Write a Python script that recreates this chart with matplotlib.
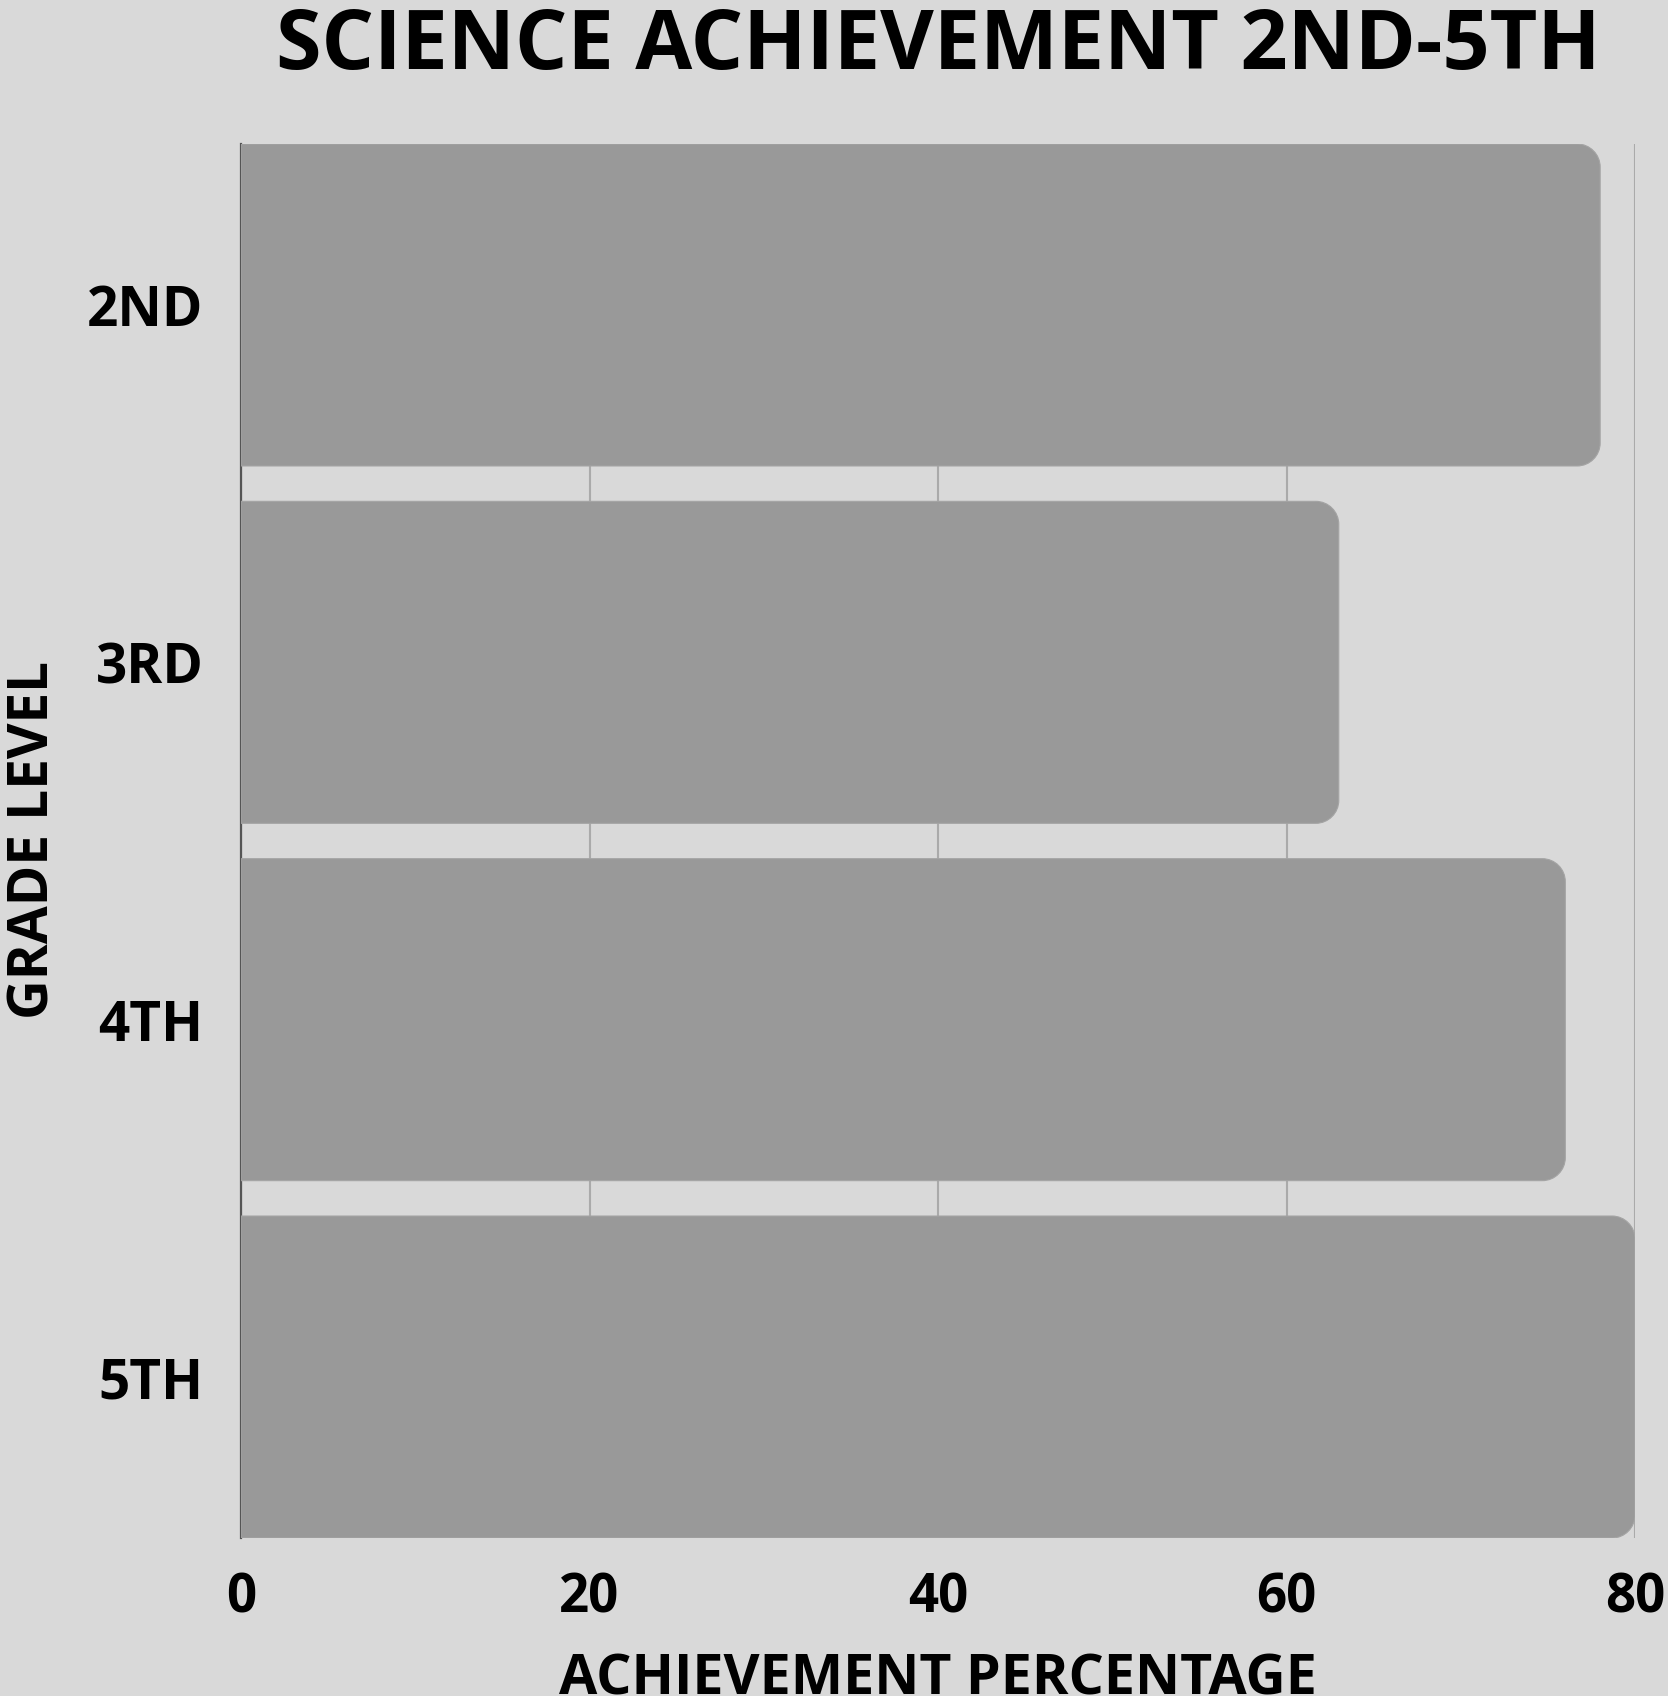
import matplotlib
matplotlib.use("Agg")
import matplotlib.pyplot as plt
from matplotlib.path import Path
from matplotlib.patches import PathPatch

grades = ["2ND", "3RD", "4TH", "5TH"]
achievement = [78, 63, 76, 80]
x_ticks = [0, 20, 40, 60, 80]

title = "SCIENCE ACHIEVEMENT 2ND-5TH"
x_label = "ACHIEVEMENT PERCENTAGE"
y_label = "GRADE LEVEL"

BG = "#d9d9d9"
BAR = "#999999"
GRID = "#aaaaaa"
FONT = ["Open Sans", "DejaVu Sans"]

plt.rcParams["font.family"] = FONT
plt.rcParams["font.weight"] = "bold"


def right_rounded_bar(x0, x1, yc, h, rx, ry):
    """Bar path with square left end and circular-looking right corners."""
    k = 0.5523  # cubic bezier circle constant
    y_top, y_bot = yc - h / 2, yc + h / 2
    verts = [
        (x0, y_top),
        (x1 - rx, y_top),
        (x1 - rx + k * rx, y_top), (x1, y_top + ry - k * ry), (x1, y_top + ry),
        (x1, y_bot - ry),
        (x1, y_bot - ry + k * ry), (x1 - rx + k * rx, y_bot), (x1 - rx, y_bot),
        (x0, y_bot),
        (x0, y_top),
    ]
    codes = [Path.MOVETO, Path.LINETO,
             Path.CURVE4, Path.CURVE4, Path.CURVE4,
             Path.LINETO,
             Path.CURVE4, Path.CURVE4, Path.CURVE4,
             Path.LINETO, Path.CLOSEPOLY]
    return Path(verts, codes)


W, H = 1668, 1696
fig = plt.figure(figsize=(W / 100, H / 100), dpi=100, facecolor=BG)
ax = fig.add_axes([241 / W, 1 - 1538 / H, (1635 - 241) / W, (1538 - 144) / H])
ax.set_facecolor(BG)

bar_h = 0.901
x_max = 80
ax.set_xlim(0, x_max)
ax.set_ylim(len(grades) - 1 + bar_h / 2, -bar_h / 2)

# pixel-based corner radius converted to data units
ax_w_px = 1635 - 241
ax_h_px = 1538 - 144
radius_px = 23
rx = radius_px * x_max / ax_w_px
ry = radius_px * (len(grades) - 1 + bar_h) / ax_h_px

for i, v in enumerate(achievement):
    patch = PathPatch(right_rounded_bar(0, v, i, bar_h, rx, ry),
                      facecolor=BAR, edgecolor="#a4a4a4", linewidth=0.8,
                      zorder=2)
    ax.add_patch(patch)

ax.set_xticks(x_ticks)
ax.set_yticks(range(len(grades)))
ax.set_yticklabels(grades)
ax.grid(axis="x", color=GRID, linewidth=1.5, zorder=0)
ax.set_axisbelow(True)
ax.tick_params(axis="both", length=0, colors="black")
ax.tick_params(axis="x", pad=24, labelsize=38)
ax.tick_params(axis="y", pad=27, labelsize=39.5)
for lbl in ax.get_xticklabels() + ax.get_yticklabels():
    lbl.set_fontweight("bold")

for side in ["top", "right", "bottom"]:
    ax.spines[side].set_visible(False)
ax.spines["left"].set_color("#555555")
ax.spines["left"].set_linewidth(1.6)
ax.spines["left"].set_zorder(1)

cx = (241 + 1635) / 2 / W
fig.text(cx, 1 - 47.5 / H, title, ha="center", va="center",
         fontsize=59.5, fontweight="bold", color="black")
fig.text(cx, 1 - 1680 / H, x_label, ha="center", va="center",
         fontsize=40, fontweight="bold", color="black")
fig.text(34 / W, 1 - 840 / H, y_label, ha="center", va="center",
         rotation=90, fontsize=39.5, fontweight="bold", color="black")

fig.savefig("out.png", dpi=100, facecolor=BG)
